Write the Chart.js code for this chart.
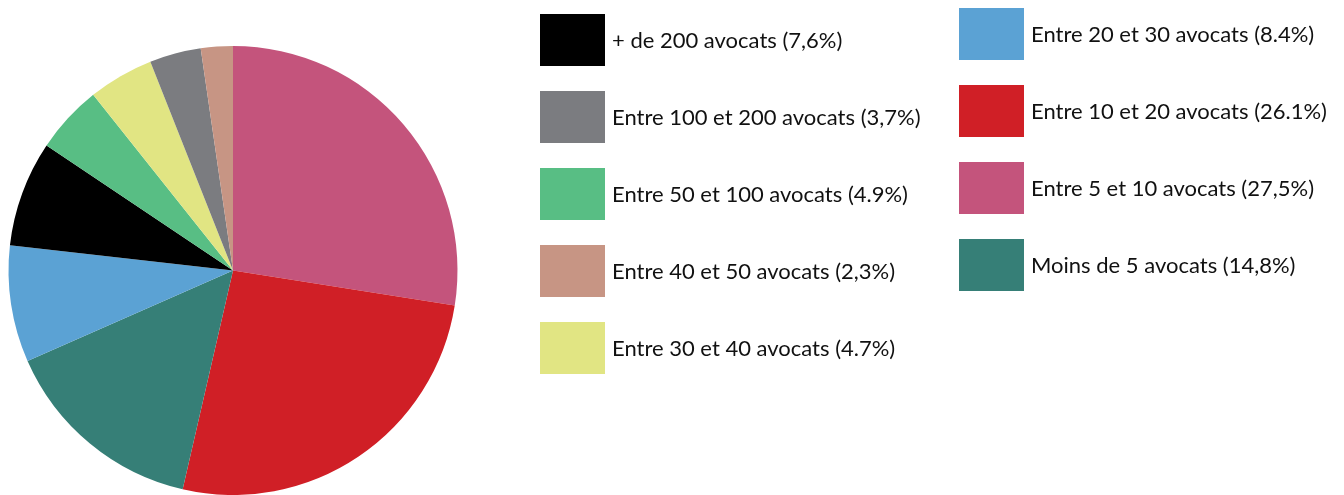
<!DOCTYPE html>
<html><head><meta charset="utf-8">
<script src="https://cdn.jsdelivr.net/npm/chart.js@4"></script>
<style>html,body{margin:0;padding:0;background:#fff;overflow:hidden;}#wrap{position:relative;width:1344px;height:495px;}</style>
</head><body><div id="wrap"><canvas id="c" width="1344" height="495"></canvas></div>
<script>
const categories = ["Entre 5 et 10 avocats","Entre 10 et 20 avocats","Moins de 5 avocats","Entre 20 et 30 avocats","+ de 200 avocats","Entre 50 et 100 avocats","Entre 30 et 40 avocats","Entre 100 et 200 avocats","Entre 40 et 50 avocats"];
const values = [27.5, 26.1, 14.8, 8.4, 7.6, 4.9, 4.7, 3.7, 2.3];
const valueLabels = ["27,5%","26.1%","14,8%","8.4%","7,6%","4.9%","4.7%","3,7%","2,3%"];
const colors = ["#C4547C","#D01F26","#367F77","#5BA2D4","#000000","#58BE84","#E1E583","#7B7C80","#C79584"];
// legend order: column 1 then column 2 (indices into categories)
const legendCol1 = [4, 7, 5, 8, 6];
const legendCol2 = [3, 1, 0, 2];

const legendPlugin = {
  id: 'customLegend',
  afterDraw(chart) {
    const ctx = chart.ctx;
    ctx.save();
    ctx.font = '22px Lato';
    ctx.textBaseline = 'middle';
    const cols = [{items: legendCol1, x: 540, y: 14}, {items: legendCol2, x: 959, y: 8}];
    cols.forEach(col => {
      col.items.forEach((idx, k) => {
        const y = col.y + k * 77;
        ctx.fillStyle = colors[idx];
        ctx.fillRect(col.x, y, 65, 52);
        ctx.fillStyle = '#111';
        ctx.fillText(categories[idx] + ' (' + valueLabels[idx] + ')', col.x + 72, y + 27);
      });
    });
    ctx.restore();
  }
};

new Chart(document.getElementById('c'), {
  type: 'pie',
  data: { labels: categories, datasets: [{ data: values, backgroundColor: colors, borderWidth: 0 }] },
  options: {
    responsive: false, animation: false,
    layout: { padding: { left: 8, right: 886, top: 46, bottom: 0 } },
    plugins: { legend: { display: false }, tooltip: { enabled: false } }
  },
  plugins: [legendPlugin]
});
</script></body></html>
